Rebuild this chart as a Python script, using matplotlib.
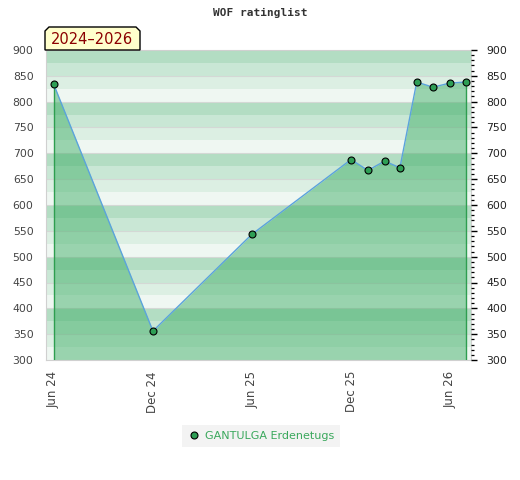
import numpy as np
import matplotlib
matplotlib.use('Agg')
import matplotlib.pyplot as plt
import matplotlib.dates as mdates
from matplotlib.patches import Polygon
import datetime as dt

# 数据：评级列表日期与分数
dates = [dt.date(2024, 6, 1), dt.date(2024, 12, 1), dt.date(2025, 6, 1),
         dt.date(2025, 12, 1), dt.date(2026, 1, 1), dt.date(2026, 2, 1),
         dt.date(2026, 3, 1), dt.date(2026, 4, 1), dt.date(2026, 5, 1),
         dt.date(2026, 6, 1), dt.date(2026, 7, 1)]
ratings = [834, 356, 543, 688, 667, 685, 672, 838, 828, 836, 838]
tick_dates = [dt.date(2024, 6, 1), dt.date(2024, 12, 1), dt.date(2025, 6, 1),
              dt.date(2025, 12, 1), dt.date(2026, 6, 1)]
tick_labels = ['Jun 24', 'Dec 24', 'Jun 25', 'Dec 25', 'Jun 26']
player = 'GANTULGA Erdenetugs'
period = '2024–2026'

W, H = 520, 480
fig = plt.figure(figsize=(W / 100, H / 100), dpi=100)
ax = fig.add_axes([46 / W, 1 - 360 / H, (471 - 46) / W, (360 - 50) / H])

ymin, ymax = 300, 900
band_cols = ['#eff7f2', '#dcefe3', '#c9e7d5', '#b3ddc3']  # 每100分内由下到上
for lo in range(ymin, ymax, 25):
    ax.axhspan(lo, lo + 25, color=band_cols[(lo // 25) % 4], lw=0, zorder=0)
for g in range(ymin + 50, ymax, 50):
    ax.axhline(g, color='#d4d8d5', lw=0.8, zorder=1)

x = mdates.date2num(dates)
ax.fill_between(x, ratings, ymin, color='#39ac62', alpha=0.47, lw=0, zorder=2)
ax.vlines([x[0], x[-1]], ymin, [ratings[0], ratings[-1]], color='#2e9e50', lw=1, zorder=3)
ax.plot(x, ratings, color='#5ba3dc', lw=1.0, zorder=4)
ax.plot(x, ratings, 'o', color='#2e9e55', mec='black', mew=0.8, ms=5,
        zorder=5, label=player)

ax.set_xlim(mdates.date2num(dt.date(2024, 5, 18)), mdates.date2num(dt.date(2026, 7, 10)))
ax.set_ylim(ymin, ymax)
ax.set_xticks(mdates.date2num(tick_dates))
ax.set_xticklabels(tick_labels, rotation=90)
ax.set_yticks(range(ymin, ymax + 1, 50))
ax.tick_params(axis='x', length=0, pad=8, labelsize=8.5, labelcolor='#444444')
ax.tick_params(axis='y', length=0, pad=9, labelsize=7.8, labelcolor='#444444')
for s in ax.spines.values():
    s.set_color('#d0d0d0')

ax2 = ax.twinx()
ax2.set_ylim(ymin, ymax)
ax2.set_yticks(range(ymin, ymax + 1, 50))
ax2.set_yticks(range(ymin, ymax + 1, 10), minor=True)
ax2.tick_params(axis='y', which='major', length=4, width=1, color='black',
                pad=7, labelsize=7.8, labelcolor='#222222')
ax2.tick_params(axis='y', which='minor', length=2.5, width=0.9, color='black')
for s in ax2.spines.values():
    s.set_visible(False)

# 标题
fig.text(260 / W, 1 - 13 / H, 'WOF ratinglist', ha='center', va='center',
         family='DejaVu Sans Mono', weight='bold', fontsize=8, color='#333333')

# 左上角年份标签
bx0, bx1, by0, by1, c = 45, 140, 50, 27, 4
pts = [(bx0, by0), (bx0, by1 + c), (bx0 + c, by1), (bx1 - c, by1), (bx1, by1 + c), (bx1, by0)]
pts = [(px / W, 1 - py / H) for px, py in pts]
fig.patches.append(Polygon(pts, closed=True, transform=fig.transFigure,
                           facecolor='#ffffcc', edgecolor='black', lw=1, zorder=10))
fig.text(92 / W, 1 - 39.5 / H, period, ha='center', va='center',
         fontsize=10.5, color='#8b0000', zorder=11)

leg = fig.legend(loc='center', bbox_to_anchor=(261 / W, 1 - 436 / H), frameon=True,
                 fancybox=False, facecolor='#f0f0f0', edgecolor='#f0f0f0',
                 fontsize=8, handletextpad=0.4, handlelength=1.2, borderpad=0.5,
                 labelcolor='#3aa85c')
leg.get_frame().set_linewidth(0)

fig.savefig('out.png', dpi=100)
